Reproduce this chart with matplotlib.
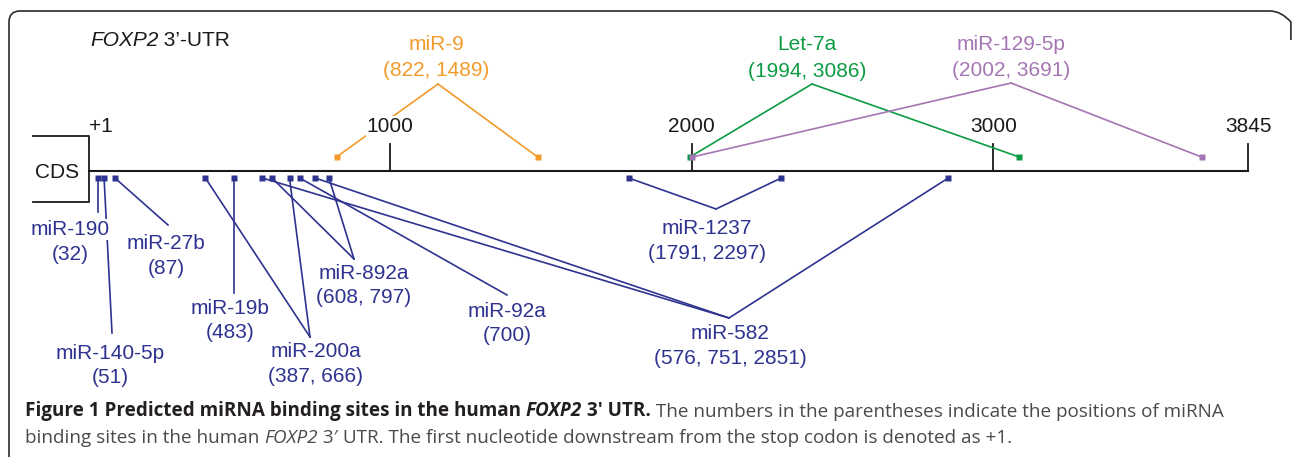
import matplotlib
matplotlib.use("Agg")
import matplotlib.pyplot as plt
from matplotlib import font_manager
from matplotlib.path import Path
from matplotlib.patches import PathPatch

# miRNA binding sites in the FOXP2 3'-UTR (nucleotide positions)
mirnas = ['miR-9', 'Let-7a', 'miR-129-5p', 'miR-190', 'miR-140-5p', 'miR-27b',
          'miR-19b', 'miR-200a', 'miR-892a', 'miR-92a', 'miR-582', 'miR-1237']
sites = [[822, 1489], [1994, 3086], [2002, 3691], [32], [51], [87],
         [483], [387, 666], [608, 797], [700], [576, 751, 2851], [1791, 2297]]
above = [True, True, True] + [False] * 9

utr_start, utr_end = 1, 3845
tick_pos = [1, 1000, 2000, 3000, 3845]
tick_labels = ['+1', '1000', '2000', '3000', '3845']

# colours
navy = '#2E3390'
colors = ['#F39A2B', '#0C9B43', '#A576B4'] + [navy] * 9

# layout in figure pixels: apex x (None = straight down), apex y, label x, baseline 1, baseline 2
layout = [
    (438, 84, 436, 50, 76),
    (812, 84, 807, 50, 77),
    (1011, 83, 1011, 50, 76),
    (None, 212, 70, 235, 260),
    (112, 333, 110, 359, 383),
    (168, 225, 166, 249, 274),
    (None, 293, 230, 314, 338),
    (310, 337, 316, 357, 382),
    (354, 259, 364, 279, 303),
    (507, 295, 507, 317, 341),
    (729, 318, 730, 339, 364),
    (716, 209, 707, 234, 259),
]

W, H = 1293, 457
fig = plt.figure(figsize=(W / 100, H / 100), dpi=100)
fig.patch.set_facecolor('white')

# frame in pixel coordinates
frame = fig.add_axes([0, 0, 1, 1])
frame.set_xlim(0, W)
frame.set_ylim(H, 0)
frame.axis('off')
r = 11
verts = [(9, H + 2), (9, 11 + r), (9, 11), (9 + r, 11), (W - 12 - r, 11),
         (W - 12, 11), (W - 12 + r * 0.9, 11 + r), (W - 12 + r * 0.9, 40)]
codes = [Path.MOVETO, Path.LINETO, Path.CURVE3, Path.CURVE3, Path.LINETO,
         Path.CURVE3, Path.CURVE3, Path.LINETO]
frame.add_patch(PathPatch(Path(verts, codes), fill=False, ec='#2b2b2b', lw=1.2))

# main axes: x = nucleotide position, y = figure pixel rows
ax = fig.add_axes([0, 0, 1, 1])
s = (1248 - 89) / (utr_end - utr_start)
ax.set_xlim(utr_start - 89 / s, utr_start + (W - 89) / s)
ax.set_ylim(H, 0)
ax.axis('off')


def lx(px):
    return ax.transData.inverted().transform((px, 0))[0]


lab_font = dict(family='Liberation Sans', fontsize=15)
line_y, top_y, cds_top, cds_bot = 171, 144, 136, 202
y_up, y_down = 157, 178

ax.plot([utr_start, utr_end], [line_y, line_y], color='#1a1a1a', lw=1.5, zorder=2)
ax.plot([lx(33), utr_start, utr_start, lx(33)], [cds_top, cds_top, cds_bot, cds_bot],
        color='#1a1a1a', lw=1.3, zorder=2)
ax.text(lx(57), line_y + 7, 'CDS', ha='center', va='baseline', color='#1a1a1a', **lab_font)
for p, t in zip(tick_pos, tick_labels):
    if p != utr_start:
        ax.plot([p, p], [top_y, line_y], color='#1a1a1a', lw=1.3, zorder=2)
        ax.text(p, 132, t, ha='center', va='baseline', color='#1a1a1a', zorder=5,
                bbox=dict(fc='white', ec='none', pad=0.5), **lab_font)
    else:
        ax.text(p, 132, t, ha='left', va='baseline', color='#1a1a1a', zorder=5, **lab_font)

t1 = ax.text(lx(90), 46, 'FOXP2', ha='left', va='baseline', style='italic',
             color='#1a1a1a', **lab_font)
ax.annotate(' 3\u2019-UTR', xy=(1, 0), xycoords=t1, ha='left', va='bottom',
            color='#1a1a1a', **lab_font)

for name, pos, up, c, (axp, ayp, lxp, b1, b2) in zip(mirnas, sites, above, colors, layout):
    my = y_up if up else y_down
    apex_x = pos[0] if axp is None else lx(axp)
    for p in pos:
        ax.plot([p, apex_x], [my, ayp], color=c, lw=1.2, zorder=2)
    ax.plot(pos, [my] * len(pos), 's', color=c, ms=4, mec='none', zorder=3)
    box = dict(fc='white', ec='none', pad=0.8)
    ax.text(lx(lxp), b1, name, ha='center', va='baseline', color=c, zorder=5,
            bbox=box, **lab_font)
    ax.text(lx(lxp), b2, '(' + ', '.join(str(p) for p in pos) + ')', ha='center',
            va='baseline', color=c, zorder=5, bbox=box, **lab_font)

# caption
names = {f.name for f in font_manager.fontManager.ttflist}
cap_family = ['Open Sans', 'DejaVu Sans'] if 'Open Sans' in names else ['Liberation Sans', 'DejaVu Sans']
dark, grey = '#231f20', '#4a4a4a'
line1 = [('Figure 1 Predicted miRNA binding sites in the human ', 'bold', 'normal', dark),
         ('FOXP2', 'bold', 'italic', dark),
         (' 3\u2032 UTR.', 'bold', 'normal', dark),
         (' The numbers in the parentheses indicate the positions of miRNA', 'normal', 'normal', grey)]
line2 = [('binding sites in the human ', 'normal', 'normal', grey),
         ('FOXP2', 'normal', 'italic', grey),
         (' 3\u2032 UTR. The first nucleotide downstream from the stop codon is denoted as +1.',
          'normal', 'normal', grey)]

cap_texts = []
last1 = None
for line, base in ((line1, 421), (line2, 447)):
    prev = None
    for txt, wt, st, col in line:
        kw = dict(family=cap_family, fontsize=12, weight=wt, style=st, color=col)
        if prev is None:
            t = ax.text(lx(25), base, txt, ha='left', va='bottom', **kw)
        else:
            t = ax.annotate(txt, xy=(1, 0), xycoords=prev, ha='left', va='bottom', **kw)
        cap_texts.append(t)
        prev = t
    if last1 is None:
        last1 = prev

fig.canvas.draw()
r_edge = last1.get_window_extent().x1
scale = (1216 - 25) / (r_edge - 25)
for t in cap_texts:
    t.set_fontsize(12 * scale)

fig.savefig('out.png', dpi=100, facecolor='white')
